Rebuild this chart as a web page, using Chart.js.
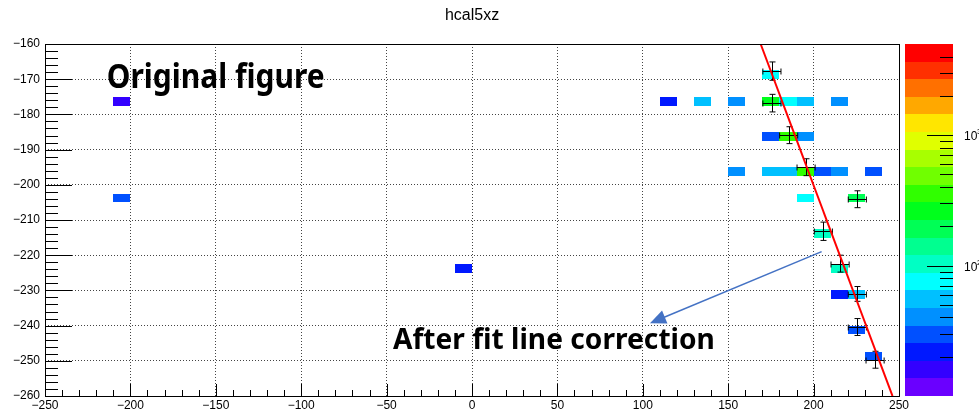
<!DOCTYPE html>
<html>
<head>
<meta charset="utf-8">
<title>hcal5xz</title>
<script src="https://cdn.jsdelivr.net/npm/chart.js@4.4.1/dist/chart.umd.min.js"></script>
<style>
  body { margin: 0; background: #fff; }
  #wrap { width: 979px; height: 415px; }
</style>
</head>
<body>
<div id="wrap"><canvas id="my-chart" width="979" height="415"></canvas></div>
<script>
'use strict';

// Histogram cells (lower-left bin edges + content)
let binWidth = 10;
let binHeight = 2.5;
let cellX = [170,
  -210, 110, 130, 150, 170, 180, 190, 210,
  170, 180, 190,
  150, 170, 180, 190, 200, 210, 230,
  -210, 190, 220,
  200,
  -10, 210,
  210, 220,
  220,
  230];
let cellY = [-170,
  -177.5, -177.5, -177.5, -177.5, -177.5, -177.5, -177.5, -177.5,
  -187.5, -187.5, -187.5,
  -197.5, -197.5, -197.5, -197.5, -197.5, -197.5, -197.5,
  -205, -205, -205,
  -215,
  -225, -225,
  -232.5, -232.5,
  -242.5,
  -250];
let cellZ = [75,
  16, 22, 55, 40, 261, 75, 55, 40,
  30, 356, 40,
  40, 55, 55, 356, 30, 40, 30,
  30, 75, 191,
  103,
  22, 103,
  22, 55,
  30,
  30];

// Fitted points with errors
let ptX = [175.6, 175.6, 185.4, 195.6, 225.6, 205.7, 215.5, 225.6, 225.6, 236.0];
let ptY = [-167.7, -176.8, -185.9, -195.0, -204.1, -213.2, -222.4, -231.0, -240.4, -249.7];
let ptEX = [5.3, 5.3, 5.3, 5.3, 5.3, 5.3, 5.3, 5.3, 5.3, 5.3];
let ptEY = [2.6, 2.5, 2.4, 2.4, 2.4, 2.6, 2.4, 2.1, 2.4, 2.4];

// Fit line end points
let fitX = [169.0, 246.2];
let fitY = [-160, -260];

// Axis ranges
let xMin = -250, xMax = 250, xStep = 50, xMinor = 10;
let yMin = -260, yMax = -160, yStep = 10, yMinor = 2;

// Colour scale (log z)
let zMin = 10;
let zMax = 5000;
let zMajorTicks = [100, 1000];
let zMinorTicks = [20, 30, 40, 50, 60, 70, 80, 90, 200, 300, 400, 500, 600, 700, 800, 900, 2000, 3000, 4000];
let zLabels = ['2', '3'];

// rainbow palette, bottom to top
let palette = ['#6a00ff', '#3300ff', '#0018ff', '#0050ff', '#0090ff', '#00c0ff', '#00ffff',
  '#00ffc4', '#00ff90', '#00ff55', '#00ff1c', '#30ff00', '#70ff00', '#a8ff00', '#e0ff00',
  '#ffe600', '#ffa800', '#ff7000', '#ff3000', '#ff0000'];

// Annotations
let arrowFrom = [204.7, -219.0];
let arrowTo = [104.2, -239.3];
let noteText = ['Original figure', 'After fit line correction'];
let noteX = [-213.9, -46.3];
let noteY = [-172.5, -246.6];
let noteWidth = [218, 322];
let noteCap = [24, 21];

Chart.defaults.font.family = '"Liberation Sans", Arial, sans-serif';
Chart.defaults.font.size = 12;
Chart.defaults.color = '#000';

function minusSign(v) {
  return String(v).replace('-', '\u2212');
}

function colourFor(z) {
  let f = (Math.log10(z) - Math.log10(zMin)) / (Math.log10(zMax) - Math.log10(zMin));
  let i = Math.floor(f * palette.length);
  if (i < 0) i = 0;
  if (i > palette.length - 1) i = palette.length - 1;
  return palette[i];
}

// cells + error bars, drawn over the grid but under the fit line
let histPlugin = {
  id: 'hist',
  beforeDatasetsDraw(chart) {
    let ctx = chart.ctx;
    let xs = chart.scales.x;
    let ys = chart.scales.y;
    ctx.save();
    for (let i = 0; i < cellX.length; i++) {
      let l = Math.round(xs.getPixelForValue(cellX[i]));
      let r = Math.round(xs.getPixelForValue(cellX[i] + binWidth));
      let t = Math.round(ys.getPixelForValue(cellY[i] + binHeight));
      let b = Math.round(ys.getPixelForValue(cellY[i]));
      ctx.fillStyle = colourFor(cellZ[i]);
      ctx.fillRect(l, t, r - l, b - t);
    }

    // error crosses
    ctx.strokeStyle = '#000';
    ctx.lineWidth = 1;
    let cap = 3;
    for (let i = 0; i < ptX.length; i++) {
      let cx = Math.round(xs.getPixelForValue(ptX[i])) + 0.5;
      let cy = Math.round(ys.getPixelForValue(ptY[i])) + 0.5;
      let l = xs.getPixelForValue(ptX[i] - ptEX[i]);
      let r = xs.getPixelForValue(ptX[i] + ptEX[i]);
      let t = ys.getPixelForValue(ptY[i] + ptEY[i]);
      let b = ys.getPixelForValue(ptY[i] - ptEY[i]);
      ctx.beginPath();
      ctx.moveTo(l, cy); ctx.lineTo(r, cy);
      ctx.moveTo(cx, t); ctx.lineTo(cx, b);
      ctx.moveTo(l, cy - cap); ctx.lineTo(l, cy + cap);
      ctx.moveTo(r, cy - cap); ctx.lineTo(r, cy + cap);
      ctx.moveTo(cx - cap, t); ctx.lineTo(cx + cap, t);
      ctx.moveTo(cx - cap, b); ctx.lineTo(cx + cap, b);
      ctx.stroke();
    }
    ctx.restore();
  },
  afterDatasetsDraw(chart) {
    let ctx = chart.ctx;
    let xs = chart.scales.x;
    let ys = chart.scales.y;

    // arrow
    let x0 = xs.getPixelForValue(arrowFrom[0]);
    let y0 = ys.getPixelForValue(arrowFrom[1]);
    let x1 = xs.getPixelForValue(arrowTo[0]);
    let y1 = ys.getPixelForValue(arrowTo[1]);
    let ang = Math.atan2(y1 - y0, x1 - x0);
    let headLen = 16, headW = 7;
    ctx.save();
    ctx.strokeStyle = '#4472c4';
    ctx.fillStyle = '#4472c4';
    ctx.lineWidth = 1.5;
    ctx.beginPath();
    ctx.moveTo(x0, y0);
    ctx.lineTo(x1 - Math.cos(ang) * headLen * 0.8, y1 - Math.sin(ang) * headLen * 0.8);
    ctx.stroke();
    ctx.beginPath();
    ctx.moveTo(x1, y1);
    ctx.lineTo(x1 - Math.cos(ang) * headLen - Math.sin(ang) * headW, y1 - Math.sin(ang) * headLen + Math.cos(ang) * headW);
    ctx.lineTo(x1 - Math.cos(ang) * headLen + Math.sin(ang) * headW, y1 - Math.sin(ang) * headLen - Math.cos(ang) * headW);
    ctx.closePath();
    ctx.fill();

    // notes, stretched to the measured size
    ctx.fillStyle = '#000';
    ctx.textBaseline = 'alphabetic';
    ctx.textAlign = 'left';
    ctx.font = 'bold 100px "Noto Sans", sans-serif';
    let capH = ctx.measureText('H').actualBoundingBoxAscent;
    for (let i = 0; i < noteText.length; i++) {
      let w = ctx.measureText(noteText[i]).width;
      ctx.save();
      ctx.translate(xs.getPixelForValue(noteX[i]), ys.getPixelForValue(noteY[i]));
      ctx.scale(noteWidth[i] / w, noteCap[i] / capH);
      ctx.fillText(noteText[i], 0, 0);
      ctx.restore();
    }
    ctx.restore();
  },
  afterDraw(chart) {
    let ctx = chart.ctx;
    let xs = chart.scales.x;
    let ys = chart.scales.y;
    let zs = chart.scales.z;
    let a = chart.chartArea;
    ctx.save();
    ctx.strokeStyle = '#000';
    ctx.lineWidth = 1;

    // inward ticks, left axis
    ctx.beginPath();
    for (let v = yMin; v <= yMax; v += yMinor) {
      let y = Math.round(ys.getPixelForValue(v)) + 0.5;
      let len = (v % yStep === 0) ? 27 : 13;
      ctx.moveTo(a.left, y);
      ctx.lineTo(a.left + len, y);
    }
    // inward ticks, bottom axis
    for (let v = xMin; v <= xMax; v += xMinor) {
      let x = Math.round(xs.getPixelForValue(v)) + 0.5;
      let len = (v % xStep === 0) ? 12 : 6;
      ctx.moveTo(x, a.bottom);
      ctx.lineTo(x, a.bottom - len);
    }
    ctx.stroke();

    // frame
    ctx.strokeRect(Math.round(a.left) + 0.5, Math.round(a.top) + 0.5,
      Math.round(a.right - a.left), Math.round(a.bottom - a.top));

    // title
    ctx.fillStyle = '#000';
    ctx.font = '16px "Liberation Sans", Arial, sans-serif';
    ctx.textAlign = 'center';
    ctx.textBaseline = 'middle';
    ctx.fillText('hcal5xz', (a.left + a.right) / 2, 16);

    // colour bar
    let barL = a.right + 6;
    let barR = a.right + 54;
    let n = palette.length;
    let lz0 = Math.log10(zMin), lz1 = Math.log10(zMax);
    for (let i = 0; i < n; i++) {
      let zLo = Math.pow(10, lz0 + (lz1 - lz0) * i / n);
      let zHi = Math.pow(10, lz0 + (lz1 - lz0) * (i + 1) / n);
      let yLo = Math.round(zs.getPixelForValue(zLo));
      let yHi = Math.round(zs.getPixelForValue(zHi));
      ctx.fillStyle = palette[i];
      ctx.fillRect(barL, yHi, barR - barL, yLo - yHi);
    }
    ctx.beginPath();
    for (let i = 0; i < zMinorTicks.length; i++) {
      let y = Math.round(zs.getPixelForValue(zMinorTicks[i])) + 0.5;
      ctx.moveTo(barR, y);
      ctx.lineTo(barR - 13, y);
    }
    for (let i = 0; i < zMajorTicks.length; i++) {
      let y = Math.round(zs.getPixelForValue(zMajorTicks[i])) + 0.5;
      ctx.moveTo(barR, y);
      ctx.lineTo(barR - 26, y);
    }
    ctx.stroke();
    ctx.fillStyle = '#000';
    ctx.textAlign = 'left';
    ctx.textBaseline = 'middle';
    for (let i = 0; i < zMajorTicks.length; i++) {
      let y = zs.getPixelForValue(zMajorTicks[i]);
      ctx.font = '12px "Liberation Sans", Arial, sans-serif';
      ctx.fillText('10', barR + 11, y + 2);
      ctx.font = '8px "Liberation Sans", Arial, sans-serif';
      ctx.fillText(zLabels[i], barR + 24, y - 3);
    }
    ctx.restore();
  }
};

let ctx = document.getElementById('my-chart');

let pointData = [];
for (let i = 0; i < ptX.length; i++) {
  pointData.push({ x: ptX[i], y: ptY[i] });
}
let fitData = [];
for (let i = 0; i < fitX.length; i++) {
  fitData.push({ x: fitX[i], y: fitY[i] });
}

let chartObject = {
  type: 'scatter',
  data: {
    datasets: [{
      type: 'line',
      label: 'fit',
      data: fitData,
      borderColor: '#ff0000',
      borderWidth: 2,
      pointRadius: 0,
      fill: false
    },
    {
      label: 'points',
      data: pointData,
      pointRadius: 0,
      showLine: false
    }]
  },
  options: {
    responsive: false,
    animation: false,
    events: [],
    layout: {
      padding: { top: 44, right: 80, left: 0, bottom: 0 }
    },
    plugins: {
      legend: { display: false },
      title: { display: false },
      tooltip: { enabled: false }
    },
    scales: {
      x: {
        type: 'linear',
        min: xMin,
        max: xMax,
        afterFit(scale) { scale.height = 19; },
        ticks: {
          stepSize: xStep,
          autoSkip: false,
          maxRotation: 0,
          padding: 2,
          callback: minusSign
        },
        grid: {
          drawTicks: false,
          color(c) {
            let v = c.tick ? c.tick.value : 0;
            return (v === xMin || v === xMax) ? 'rgba(0,0,0,0)' : '#444';
          },
          lineWidth: 1
        },
        border: { display: false, dash: [1, 2] }
      },
      y: {
        type: 'linear',
        min: yMin,
        max: yMax,
        afterFit(scale) { scale.width = 45; },
        ticks: {
          stepSize: yStep,
          autoSkip: false,
          padding: 5,
          callback: minusSign
        },
        grid: {
          drawTicks: false,
          color(c) {
            let v = c.tick ? c.tick.value : 0;
            return (v === yMin || v === yMax) ? 'rgba(0,0,0,0)' : '#444';
          },
          lineWidth: 1
        },
        border: { display: false, dash: [1, 2] }
      },
      z: {
        type: 'logarithmic',
        position: 'right',
        min: zMin,
        max: zMax,
        display: false
      }
    }
  },
  plugins: [histPlugin]
};

const hcalChart = new Chart(ctx, chartObject);
</script>
</body>
</html>
